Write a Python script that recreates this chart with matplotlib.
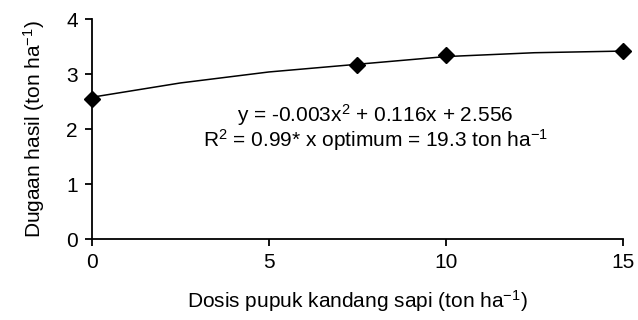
import matplotlib
matplotlib.use("Agg")
import matplotlib.pyplot as plt

plt.rcParams['font.family'] = ['Liberation Sans', 'DejaVu Sans']
plt.rcParams['mathtext.fontset'] = 'custom'
plt.rcParams['mathtext.rm'] = 'Liberation Sans'
plt.rcParams['mathtext.it'] = 'Liberation Sans'

# observed points
dosis = [0, 7.5, 10, 15]
hasil = [2.54, 3.17, 3.34, 3.42]

# fitted curve
kurva_x = [0, 2.5, 5, 7.5, 10, 12.5, 15]
kurva_y = [2.58, 2.84, 3.04, 3.18, 3.32, 3.39, 3.42]

xticks = [0, 5, 10, 15]
yticks = [0, 1, 2, 3, 4]

fs = 15

fig = plt.figure(figsize=(6.38, 3.2), dpi=100)
ax = fig.add_axes([0.144, 0.253, 0.8325, 0.687])

ax.plot(kurva_x, kurva_y, color='black', lw=1.1, zorder=2)
ax.plot(dosis, hasil, ls='none', marker='D', ms=8.5, color='black', zorder=3, clip_on=False)

ax.set_xlim(0, 15)
ax.set_ylim(0, 4)
ax.set_xticks(xticks)
ax.set_yticks(yticks)
ax.spines['top'].set_visible(False)
ax.spines['right'].set_visible(False)
for s in ['left', 'bottom']:
    ax.spines[s].set_linewidth(1.3)
ax.tick_params(direction='out', length=5, width=1.3, labelsize=fs, pad=5)

sup1 = r'$^{\mathregular{-1}}$'
ax.set_xlabel('Dosis pupuk kandang sapi (ton ha' + sup1 + ')', fontsize=fs, labelpad=12)
ax.set_ylabel('Dugaan hasil (ton ha' + sup1 + ')', fontsize=fs, labelpad=14)

ax.text(8.0, 2.25, r'y = -0.003x$^{\mathregular{2}}$ + 0.116x + 2.556', ha='center', va='center', fontsize=fs)
ax.text(8.0, 1.8, r'R$^{\mathregular{2}}$ = 0.99* x optimum = 19.3 ton ha' + sup1, ha='center', va='center', fontsize=fs)

fig.savefig('out.png', dpi=100)
